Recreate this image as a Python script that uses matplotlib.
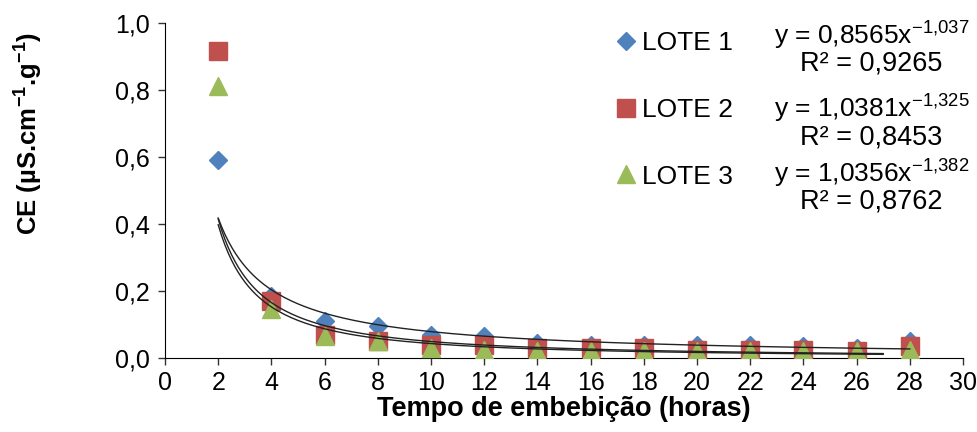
import numpy as np
import matplotlib.pyplot as plt

plt.rcParams['font.family'] = ['Liberation Sans', 'DejaVu Sans']

horas = [2, 4, 6, 8, 10, 12, 14, 16, 18, 20, 22, 24, 26, 28]
lote1 = [0.59, 0.185, 0.11, 0.095, 0.07, 0.065, 0.045, 0.04, 0.04, 0.04, 0.04, 0.035, 0.03, 0.05]
lote2 = [0.915, 0.17, 0.07, 0.05, 0.04, 0.04, 0.03, 0.03, 0.03, 0.025, 0.025, 0.025, 0.02, 0.035]
lote3 = [0.81, 0.145, 0.065, 0.05, 0.03, 0.025, 0.02, 0.02, 0.02, 0.02, 0.02, 0.02, 0.02, 0.025]

nomes = ["LOTE 1", "LOTE 2", "LOTE 3"]
cores = ["#4F81BD", "#C0504D", "#9BBB59"]
marcadores = ["D", "s", "^"]
tamanhos = [9.5, 13, 13.5]

# power trendlines y = a*x^b as printed on the chart
coef_a = [0.8565, 1.0381, 1.0356]
coef_b = [-1.037, -1.325, -1.382]
r2 = ["0,9265", "0,8453", "0,8762"]
eq_a = ["0,8565", "1,0381", "1,0356"]
eq_b = ["-1{,}037", "-1{,}325", "-1{,}382"]
fim_linha = [28, 27, 27]

fig = plt.figure(figsize=(9.77, 4.32), dpi=100)
ax = fig.add_axes([165/977, 1-358/432, (963-165)/977, (358-22.7)/432])

for y, nome, c, m, ms in zip([lote1, lote2, lote3], nomes, cores, marcadores, tamanhos):
    ax.plot(horas, y, linestyle="none", marker=m, markersize=ms, color=c, label=nome, zorder=3)

for a, b, fim in zip(coef_a, coef_b, fim_linha):
    xs = np.linspace(2, fim, 200)
    ax.plot(xs, a * xs**b, color="#222222", lw=1.0, zorder=4)

ax.set_xlim(0, 30)
ax.set_ylim(0, 1.0)
ax.set_xticks(range(0, 31, 2))
ax.set_yticks(np.arange(0, 1.01, 0.2))
ax.set_yticklabels([f"{v:.1f}".replace(".", ",") for v in np.arange(0, 1.01, 0.2)])
ax.spines["top"].set_visible(False)
ax.spines["right"].set_visible(False)
ax.tick_params(direction="out", length=5, width=1, labelsize=18, color="#333333")
ax.tick_params(axis="x", pad=4)
ax.tick_params(axis="y", pad=6)

ax.set_xlabel("Tempo de embebição (horas)", fontsize=19.5, fontweight="bold", labelpad=1)
ax.set_ylabel(r"CE (µS.cm$^{\mathregular{-1}}$.g$^{\mathregular{-1}}$)", fontsize=18.5, fontweight="bold")
ax.yaxis.set_label_coords(-0.152, 0.67)

ax.legend(loc="upper left", bbox_to_anchor=(617/977, 1-31/432), bbox_transform=fig.transFigure,
          frameon=False, fontsize=19, handlelength=0.7, handletextpad=0.25, labelspacing=1.62,
          borderpad=0, borderaxespad=0)

eq_y = [35, 108, 173]
r2_y = [63, 137, 201]
for ea, eb, r, ye, yr in zip(eq_a, eq_b, r2, eq_y, r2_y):
    fig.text(872/977, 1-ye/432, f"y = {ea}x" + r"$^{\mathregular{" + eb + "}}$",
             fontsize=19, ha="center", va="center")
    fig.text(871/977, 1-yr/432, f"R² = {r}", fontsize=19.5, ha="center", va="center")

fig.savefig("out.png", dpi=100)
